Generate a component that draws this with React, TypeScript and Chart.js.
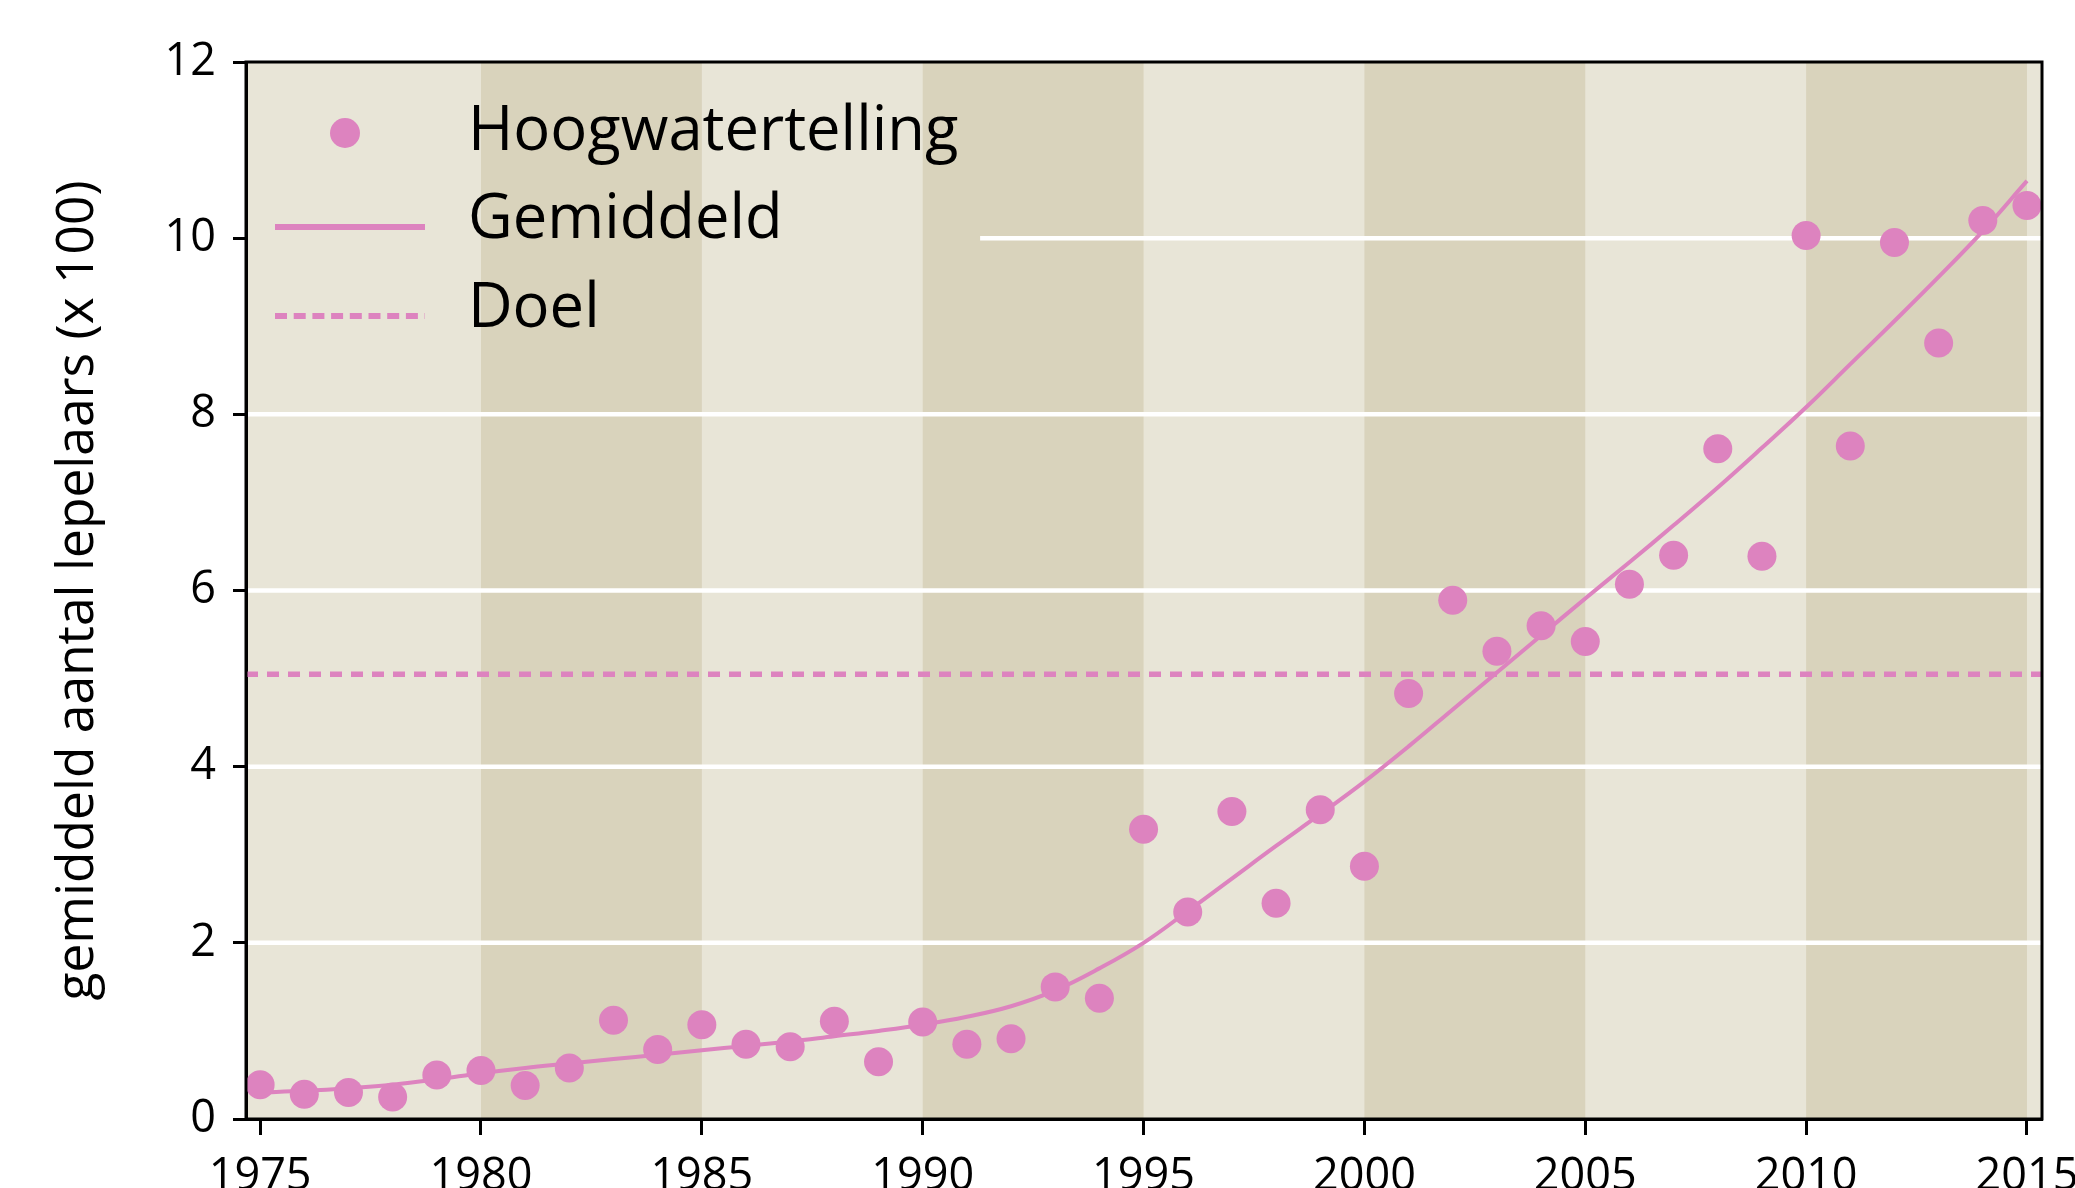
import React, { useEffect, useRef } from "react";
import { Chart, registerables } from "chart.js";

Chart.register(...registerables);

// ---- data ----
const YEARS = [
  1975, 1976, 1977, 1978, 1979, 1980, 1981, 1982, 1983, 1984,
  1985, 1986, 1987, 1988, 1989, 1990, 1991, 1992, 1993, 1994,
  1995, 1996, 1997, 1998, 1999, 2000, 2001, 2002, 2003, 2004,
  2005, 2006, 2007, 2008, 2009, 2010, 2011, 2012, 2013, 2014, 2015,
];
const HOOGWATERTELLING = [
  0.39, 0.28, 0.30, 0.25, 0.50, 0.55, 0.38, 0.58, 1.12, 0.79,
  1.07, 0.85, 0.82, 1.11, 0.65, 1.10, 0.85, 0.91, 1.50, 1.37,
  3.29, 2.35, 3.49, 2.45, 3.51, 2.87, 4.83, 5.89, 5.31, 5.60,
  5.42, 6.07, 6.40, 7.61, 6.39, 10.03, 7.64, 9.95, 8.81, 10.20, 10.37,
];
const GEMIDDELD = [
  0.30, 0.32, 0.35, 0.39, 0.45, 0.52, 0.58, 0.63, 0.68, 0.73,
  0.78, 0.83, 0.88, 0.94, 1.00, 1.07, 1.16, 1.28, 1.46, 1.71,
  2.00, 2.36, 2.73, 3.10, 3.46, 3.83, 4.23, 4.65, 5.07, 5.49,
  5.91, 6.32, 6.74, 7.17, 7.62, 8.08, 8.57, 9.06, 9.56, 10.08, 10.65,
];
const DOEL = 5.05;
const X_TICKS = [1975, 1980, 1985, 1990, 1995, 2000, 2005, 2010, 2015];
const Y_TICKS = [0, 2, 4, 6, 8, 10, 12];
const DARK_BANDS = [1980, 1990, 2000, 2010];
const LEGEND_LABELS = ["Hoogwatertelling", "Gemiddeld", "Doel"];
const Y_TITLE = "gemiddeld aantal lepelaars (x 100)";

// ---- style ----
const X_MIN = 1974.68;
const X_MAX = 2015.34;
const GRID10_FROM = 1991.3;
const PINK = "#dd83bf";
const LIGHT = "#e8e5d7";
const DARK = "#d9d3bc";
const FONT = "'Open Sans', 'Noto Sans', sans-serif";
const CW = 2120;
const CH = 1230;
const AREA_LEFT = 246;
const AREA_RIGHT = 2042;
const AREA_TOP = 62;
const AREA_BOTTOM = 1119;

export default function App() {
  const ref = useRef<HTMLCanvasElement>(null);

  useEffect(() => {
    if (!ref.current) return;

    const bgPlugin = {
      id: "bgStripes",
      beforeDraw(chart: any) {
        const { ctx, chartArea: a, scales } = chart;
        const x = scales.x;
        const y = scales.y;
        ctx.save();
        ctx.fillStyle = LIGHT;
        ctx.fillRect(a.left, a.top, a.right - a.left, a.bottom - a.top);
        ctx.fillStyle = DARK;
        DARK_BANDS.forEach((b) => {
          const x0 = x.getPixelForValue(b);
          const x1 = x.getPixelForValue(b + 5);
          ctx.fillRect(x0, a.top, x1 - x0, a.bottom - a.top);
        });
        ctx.strokeStyle = "#ffffff";
        ctx.lineWidth = 4.5;
        Y_TICKS.forEach((v) => {
          if (v <= y.min || v >= y.max) return;
          const py = y.getPixelForValue(v);
          const x0 = v === 10 ? x.getPixelForValue(GRID10_FROM) : a.left;
          ctx.beginPath();
          ctx.moveTo(x0, py);
          ctx.lineTo(a.right, py);
          ctx.stroke();
        });
        ctx.restore();
      },
      afterDraw(chart: any) {
        const { ctx, chartArea: a } = chart;
        ctx.save();
        // frame
        ctx.strokeStyle = "#000";
        ctx.lineWidth = 3;
        ctx.strokeRect(a.left, a.top, a.right - a.left, a.bottom - a.top);
        // legend
        const lx0 = a.left + 29;
        const lx1 = a.left + 179;
        const tx = a.left + 222;
        ctx.fillStyle = PINK;
        ctx.beginPath();
        ctx.arc(a.left + 99, a.top + 71, 15, 0, Math.PI * 2);
        ctx.fill();
        ctx.strokeStyle = PINK;
        ctx.lineWidth = 6;
        ctx.beginPath();
        ctx.moveTo(lx0, a.top + 165);
        ctx.lineTo(lx1, a.top + 165);
        ctx.stroke();
        ctx.setLineDash([12, 6.7]);
        ctx.beginPath();
        ctx.moveTo(lx0, a.top + 254);
        ctx.lineTo(lx1, a.top + 254);
        ctx.stroke();
        ctx.setLineDash([]);
        ctx.fillStyle = "#000";
        ctx.font = `61.5px ${FONT}`;
        ctx.textAlign = "left";
        ctx.textBaseline = "alphabetic";
        ctx.fillText(LEGEND_LABELS[0], tx, a.top + 88);
        ctx.fillText(LEGEND_LABELS[1], tx, a.top + 176);
        ctx.fillText(LEGEND_LABELS[2], tx, a.top + 265);
        ctx.restore();
      },
    };

    const chart = new Chart(ref.current, {
      type: "scatter",
      data: {
        datasets: [
          {
            type: "scatter",
            label: LEGEND_LABELS[0],
            data: YEARS.map((x, i) => ({ x, y: HOOGWATERTELLING[i] })),
            pointRadius: 14.5,
            pointHoverRadius: 14.5,
            pointBackgroundColor: PINK,
            pointBorderWidth: 0,
            borderWidth: 0,
            showLine: false,
            order: 1,
          } as any,
          {
            type: "line",
            label: LEGEND_LABELS[1],
            data: YEARS.map((x, i) => ({ x, y: GEMIDDELD[i] })),
            borderColor: PINK,
            borderWidth: 4,
            pointRadius: 0,
            tension: 0.4,
            fill: false,
            order: 2,
          } as any,
          {
            type: "line",
            label: LEGEND_LABELS[2],
            data: [
              { x: X_MIN, y: DOEL },
              { x: X_MAX, y: DOEL },
            ],
            borderColor: PINK,
            borderWidth: 5.5,
            borderDash: [12, 9],
            pointRadius: 0,
            fill: false,
            order: 3,
          } as any,
        ],
      },
      options: {
        animation: false,
        responsive: false,
        maintainAspectRatio: false,
        devicePixelRatio: 1,
        layout: {
          padding: { left: 0, top: AREA_TOP, right: CW - AREA_RIGHT, bottom: 0 },
        },
        plugins: {
          legend: { display: false },
          tooltip: { enabled: false },
        },
        scales: {
          x: {
            type: "linear",
            position: "bottom",
            min: X_MIN,
            max: X_MAX,
            afterBuildTicks: (s: any) => {
              s.ticks = X_TICKS.map((v) => ({ value: v }));
            },
            afterFit: (s: any) => {
              s.height = CH - AREA_BOTTOM;
            },
            ticks: {
              callback: (v: any) => String(v),
              font: { family: FONT, size: 45 },
              color: "#000",
              padding: 15,
              maxRotation: 0,
              autoSkip: false,
            },
            grid: {
              drawOnChartArea: false,
              drawTicks: true,
              tickLength: 16,
              tickWidth: 3,
              tickColor: "#000",
            },
            border: { display: true, color: "#000", width: 3 },
          },
          y: {
            type: "linear",
            position: "left",
            min: 0,
            max: 12,
            afterBuildTicks: (s: any) => {
              s.ticks = Y_TICKS.map((v) => ({ value: v }));
            },
            afterFit: (s: any) => {
              s.width = AREA_LEFT;
            },
            ticks: {
              callback: (v: any) => String(v),
              font: { family: FONT, size: 45 },
              color: "#000",
              padding: 17,
              autoSkip: false,
            },
            grid: {
              drawOnChartArea: false,
              drawTicks: true,
              tickLength: 13,
              tickWidth: 3,
              tickColor: "#000",
            },
            border: { display: true, color: "#000", width: 3 },
            title: {
              display: true,
              text: Y_TITLE,
              color: "#000",
              font: { family: FONT, size: 51.5 },
              padding: { top: 47, bottom: 0 },
            },
          },
        },
      },
      plugins: [bgPlugin],
    });

    return () => chart.destroy();
  }, []);

  return (
    <div
      style={{
        position: "fixed",
        left: 0,
        top: 0,
        width: 2075,
        height: 1188,
        overflow: "hidden",
        background: "#fff",
      }}
    >
      <canvas ref={ref} width={CW} height={CH} style={{ display: "block" }} />
    </div>
  );
}
